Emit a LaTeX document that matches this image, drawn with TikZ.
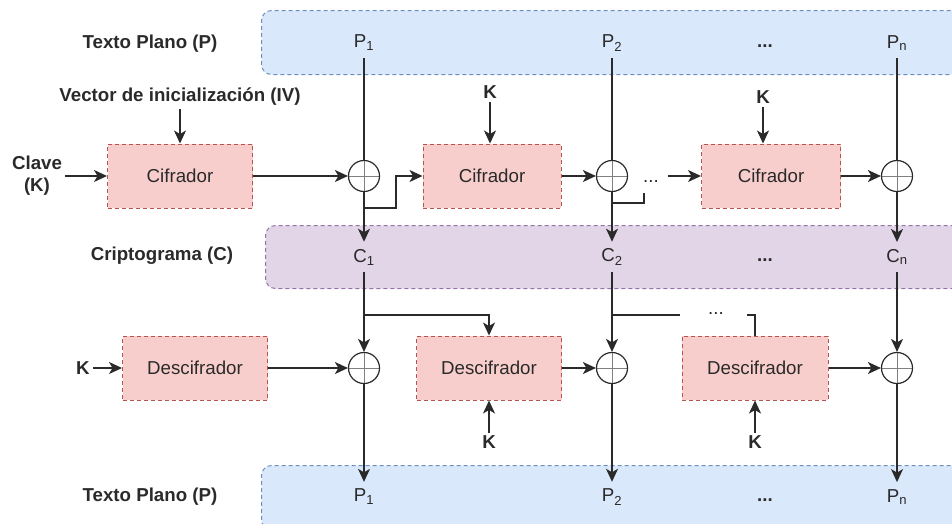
\documentclass[tikz,border=0pt]{standalone}
\usepackage{fontspec}
\setmainfont{Liberation Sans}
\usepackage{tikz}
\usetikzlibrary{arrows.meta, positioning}
\definecolor{bandblue}{HTML}{DAE8FC}
\definecolor{bandblueline}{HTML}{6C8EBF}
\definecolor{bandpurple}{HTML}{E1D5E7}
\definecolor{bandpurpleline}{HTML}{9673A6}
\definecolor{boxred}{HTML}{F8CECC}
\definecolor{boxredline}{HTML}{B85450}
\definecolor{textdark}{HTML}{2A2A2A}
\newcommand{\diagfont}{\fontsize{18.7}{22}\selectfont}

\begin{document}
\begin{tikzpicture}[x=1pt, y=-1pt,
    band/.style={draw, dash pattern=on 4pt off 3pt, line width=1pt, rounded corners=10pt,
                 anchor=north west, minimum width=720pt, minimum height=64pt, inner sep=0pt},
    cifbox/.style={draw=boxredline, fill=boxred, dash pattern=on 4pt off 3pt, line width=1pt,
                   minimum height=64pt, font=\diagfont, text=textdark},
    xorop/.style={circle, draw=textdark, line width=1.2pt, minimum size=31pt, inner sep=0pt,
                  path picture={\draw[line width=1pt, gray]
                    (path picture bounding box.north) -- (path picture bounding box.south)
                    (path picture bounding box.west) -- (path picture bounding box.east);}},
    val/.style={font=\diagfont, text=textdark, inner sep=7pt},
    side/.style={font=\diagfont\bfseries, text=textdark, align=center},
    dots/.style={font=\diagfont, text=textdark, inner sep=1pt},
    arrow/.style={-{Stealth[length=13pt, width=12pt, inset=3.5pt]}, line width=1.3pt, textdark},
    wire/.style={line width=1.3pt, textdark}
  ]
    \useasboundingbox (0,0) rectangle (952,523);

    % Texto plano (entrada)
    \node[band, fill=bandblue, draw=bandblueline] (ptop) at (261,10) {};
    \node[side] (ptoptxt) at (150,44) {Texto Plano (P)};
    \node[val] (p1) at (364,43) {P\textsubscript{1}};
    \node[val] (p2) at (612,43) {P\textsubscript{2}};
    \node[side] (pdots) at (765,46) {...};
    \node[val] (pn) at (897,43) {P\textsubscript{n}};

    % Criptograma
    \node[band, fill=bandpurple, draw=bandpurpleline, minimum height=63pt] (cband) at (265,225) {};
    \node[side] (ctxt) at (162,256) {Criptograma (C)};
    \node[val] (c1) at (364,257) {C\textsubscript{1}};
    \node[val] (c2) at (612,257) {C\textsubscript{2}};
    \node[side] (cdots) at (765,260) {...};
    \node[val] (cn) at (897,257) {C\textsubscript{n}};

    % Texto plano (salida)
    \node[band, fill=bandblue, draw=bandblueline] (pbot) at (261,465) {};
    \node[side] (pbottxt) at (150,497) {Texto Plano (P)};
    \node[val] (q1) at (364,497) {P\textsubscript{1}};
    \node[val] (q2) at (612,497) {P\textsubscript{2}};
    \node[side] (qdots) at (765,500) {...};
    \node[val] (qn) at (897,497) {P\textsubscript{n}};

    % Cifrado
    \node[side] (iv) at (180,97) {Vector de inicialización (IV)};
    \node[cifbox, minimum width=145pt] (cif1) at (180,176) {Cifrador};
    \node[side] (clave) at (37,176) {Clave\\(K)};
    \node[xorop] (x1) at (364,176) {};
    \node[cifbox, minimum width=138pt] (cif2) at (492,176) {Cifrador};
    \node[side] (k2) at (490,92) {K};
    \node[xorop] (x2) at (612,176) {};
    \node[dots] (edots) at (651,181) {...};
    \node[cifbox, minimum width=139pt] (cif3) at (771,176) {Cifrador};
    \node[side] (k3) at (763,97) {K};
    \node[xorop] (x3) at (897,176) {};
    \coordinate (fb1) at (364,208);
    \coordinate (fb2) at (612,203);
    \coordinate (ein3) at (668,176);

    \draw[arrow] (iv) -- (cif1);
    \draw[arrow] (clave) -- (cif1);
    \draw[arrow] (cif1) -- (x1);
    \draw[wire] (p1) -- (x1);
    \draw[arrow] (x1) -- (c1);
    \draw[arrow] (fb1) -- ++(32,0) |- (cif2);
    \draw[arrow] (k2) -- (k2 |- cif2.north);
    \draw[arrow] (cif2) -- (x2);
    \draw[wire] (p2) -- (x2);
    \draw[arrow] (x2) -- (c2);
    \draw[wire] (fb2) -| ++(32,-10);
    \draw[arrow] (ein3) -- (cif3);
    \draw[arrow] (k3) -- (k3 |- cif3.north);
    \draw[arrow] (cif3) -- (x3);
    \draw[wire] (pn) -- (x3);
    \draw[arrow] (x3) -- (cn);

    % Descifrado
    \node[cifbox, minimum width=145pt] (des1) at (195,368) {Descifrador};
    \node[side] (kd1) at (83,368) {K};
    \node[xorop] (x4) at (364,368) {};
    \node[cifbox, minimum width=145pt] (des2) at (489,368) {Descifrador};
    \node[side, below=32pt of des2] (kd2) {K};
    \node[xorop] (x5) at (612,368) {};
    \node[dots] (ddots) at (716,313) {...};
    \node[cifbox, minimum width=146pt] (des3) at (755,368) {Descifrador};
    \node[side, below=32pt of des3] (kd3) {K};
    \node[xorop] (x6) at (897,368) {};
    \coordinate (br1) at (364,315);
    \coordinate (br2) at (612,315);
    \coordinate (br3) at (747,315);

    \draw[arrow] (kd1) -- (des1);
    \draw[arrow] (des1) -- (x4);
    \draw[arrow] (c1) -- (x4);
    \draw[arrow] (br1) -| (des2);
    \draw[arrow] (kd2) -- (des2);
    \draw[arrow] (des2) -- (x5);
    \draw[arrow] (c2) -- (x5);
    \draw[wire] (br2) -- ++(68,0);
    \draw[wire] (br3) -| (des3.north);
    \draw[arrow, line width=2pt] (kd3) -- (des3);
    \draw[arrow] (des3) -- (x6);
    \draw[arrow] (cn) -- (x6);
    \draw[arrow] (x4) -- (q1);
    \draw[arrow] (x5) -- (q2);
    \draw[arrow] (x6) -- (qn);
  \end{tikzpicture}
\end{document}
